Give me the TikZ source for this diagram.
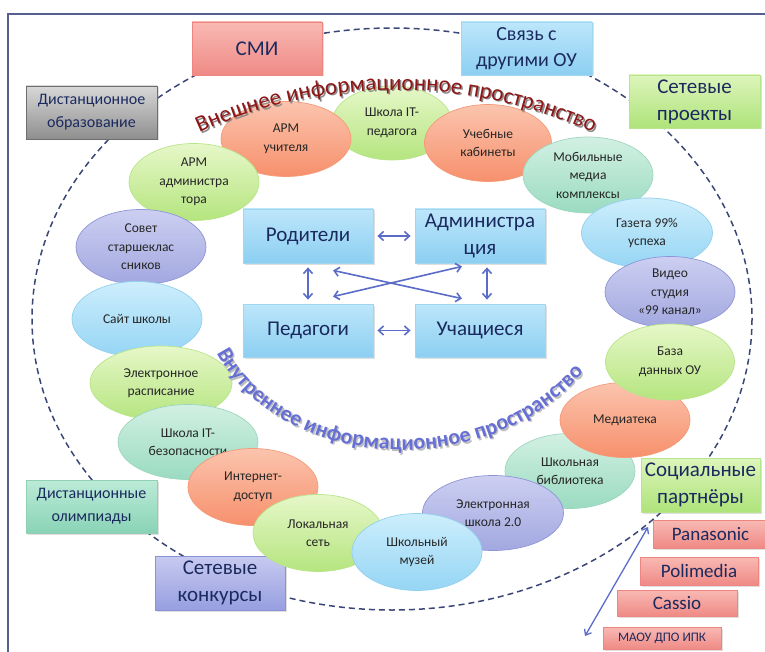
\documentclass[tikz,border=0pt]{standalone}
\usepackage{fontspec}
\setmainfont{Carlito}
\usetikzlibrary{arrows.meta, positioning, shapes.geometric, shadows, decorations.text}
\definecolor{navytext}{HTML}{1B2A5E}
\definecolor{frameblue}{HTML}{56608F}
\definecolor{dashblue}{HTML}{3A4675}
\definecolor{arrowblue}{HTML}{5B6CC8}
\definecolor{outerred}{HTML}{8E1616}
\definecolor{innerblue}{HTML}{6670D4}
% box fills
\definecolor{redtop}{HTML}{F9B9B4}\definecolor{redbot}{HTML}{EF8A85}\definecolor{redbd}{HTML}{EE8580}
\definecolor{bluetop}{HTML}{BDE6FB}\definecolor{bluebot}{HTML}{8CCFF1}\definecolor{bluebd}{HTML}{A0D6F0}
\definecolor{greentop}{HTML}{DDF5BB}\definecolor{greenbot}{HTML}{AEE37A}\definecolor{greenbd}{HTML}{B9E48E}
\definecolor{graytop}{HTML}{D8D8D8}\definecolor{graybot}{HTML}{8E8E8E}\definecolor{graybd}{HTML}{6E6E6E}
\definecolor{minttop}{HTML}{BCEBD8}\definecolor{mintbot}{HTML}{89D3B6}\definecolor{mintbd}{HTML}{8FD0B6}
\definecolor{lavtop}{HTML}{C7CAF0}\definecolor{lavbot}{HTML}{979EE0}\definecolor{lavbd}{HTML}{8A91D4}
% bubble fills
\definecolor{ortop}{HTML}{FBC4AE}\definecolor{orbot}{HTML}{F7906C}\definecolor{orbd}{HTML}{F59A78}
\definecolor{grtop}{HTML}{E6F7C8}\definecolor{grbot}{HTML}{B5E57F}\definecolor{grbd}{HTML}{B8E58A}
\definecolor{mntop}{HTML}{D2F0E3}\definecolor{mnbot}{HTML}{9ADBC1}\definecolor{mnbd}{HTML}{9DD6BF}
\definecolor{lbtop}{HTML}{CDEEFC}\definecolor{lbbot}{HTML}{95D5F4}\definecolor{lbbd}{HTML}{93D0EE}
\definecolor{lvtop}{HTML}{CCCFF1}\definecolor{lvbot}{HTML}{A2A8E0}\definecolor{lvbd}{HTML}{8E95D6}
\newcommand{\boxfont}{\fontsize{21}{27}\selectfont}
\newcommand{\midboxfont}{\fontsize{20}{26}\selectfont}
\newcommand{\smallboxfont}{\fontsize{16}{23}\selectfont}
\newcommand{\brandfont}{\fontsize{19}{19}\selectfont}

\begin{document}
\begin{tikzpicture}[x=1pt, y=-1pt, >=Stealth,
    box/.style={rectangle, align=center, inner sep=0pt, text=navytext, line width=0.8pt,
        drop shadow={opacity=0.25, shadow xshift=1.5pt, shadow yshift=-1.5pt}},
    redbox/.style={box, draw=redbd, top color=redtop, bottom color=redbot},
    bluebox/.style={box, draw=bluebd, top color=bluetop, bottom color=bluebot},
    greenbox/.style={box, draw=greenbd, top color=greentop, bottom color=greenbot},
    graybox/.style={box, draw=graybd, top color=graytop, bottom color=graybot},
    mintbox/.style={box, draw=mintbd, top color=minttop, bottom color=mintbot},
    lavbox/.style={box, draw=lavbd, top color=lavtop, bottom color=lavbot},
    bubble/.style={ellipse, inner sep=0pt, align=center, line width=0.7pt, text=black!85,
        font=\fontsize{13.5}{18.5}\selectfont},
    orangeb/.style={bubble, draw=orbd, top color=ortop, bottom color=orbot},
    greenb/.style={bubble, draw=grbd, top color=grtop, bottom color=grbot},
    mintb/.style={bubble, draw=mnbd, top color=mntop, bottom color=mnbot},
    blueb/.style={bubble, draw=lbbd, top color=lbtop, bottom color=lbbot},
    lavb/.style={bubble, draw=lvbd, top color=lvtop, bottom color=lvbot},
    biarrow/.style={{Straight Barb[length=5pt,width=9pt]}-{Straight Barb[length=5pt,width=9pt]},
        arrowblue, line width=1.6pt, shorten <=4pt, shorten >=4pt}]
    \useasboundingbox (0,0) rectangle (765,652);

    % Frame
    \draw[frameblue, line width=2pt] (8,665) -- (8,14) -- (775,14);

    % Outer dashed ring
    \draw[dashblue, line width=1.5pt, dash pattern=on 6pt off 4pt] (392,319) ellipse [x radius=360, y radius=291];

    % Outer boxes
    \node[redbox, minimum width=130, minimum height=53, font=\boxfont] (smi) at (257,48.5) {СМИ};
    \node[bluebox, minimum width=131, minimum height=53, font=\midboxfont] (svyaz) at (526.5,48.5) {Связь с\\другими ОУ};
    \node[greenbox, minimum width=131, minimum height=53, font=\boxfont] (proekty) at (694.5,101.5) {Сетевые\\проекты};
    \node[graybox, minimum width=131, minimum height=53, font=\smallboxfont] (distobr) at (91.5,112.5) {Дистанционное\\образование};
    \node[mintbox, minimum width=131, minimum height=53, font=\smallboxfont] (olymp) at (91.5,506.5) {Дистанционные\\олимпиады};
    \node[lavbox, minimum width=130, minimum height=54, font=\boxfont] (konkurs) at (220,583) {Сетевые\\конкурсы};
    \node[greenbox, minimum width=119, minimum height=54, font=\boxfont] (partners) at (700.5,485) {Социальные\\партнёры};
    \node[redbox, minimum width=115, minimum height=28, font=\brandfont] (panasonic) at (710.5,534) {Panasonic};
    \node[redbox, minimum width=118, minimum height=28, font=\brandfont] (polimedia) at (699,571) {Polimedia};
    \node[redbox, minimum width=120, minimum height=26, font=\brandfont] (cassio) at (677,603) {Cassio};
    \node[redbox, minimum width=118, minimum height=22, font=\fontsize{13}{13}\selectfont] (maou) at (662,638) {МАОУ ДПО ИПК};

    % Ring of bubbles
    \foreach \nm/\px/\py/\w/\h/\col/\txt in {
        itped/392/123/120/74/greenb/{Школа IT-\\педагога},
        armuch/286/139/130/75/orangeb/{АРМ\\учителя},
        armadm/194/182/130/77/greenb/{АРМ\\администра\\тора},
        sovet/141/247/130/75/lavb/{Совет\\старшеклас\\сников},
        sait/137/319/130/75/blueb/{Сайт школы},
        raspis/161/383/142/74/greenb/{Электронное\\расписание},
        itbez/188/442/140/75/mintb/{Школа IT-\\безопасности},
        internet/253/487/130/77/orangeb/{Интернет-\\доступ},
        lokal/318/533/130/77/greenb/{Локальная\\сеть},
        uchkab/488/143/127/77/orangeb/{Учебные\\кабинеты},
        mobil/588/175/130/76/mintb/{Мобильные\\медиа\\комплексы},
        gazeta/647/233/131/70/blueb/{Газета 99\%\\успеха},
        video/670/292/130/71/lavb/{Видео\\студия\\«99 канал»},
        bibl/570/471/130/75/mintb/{Школьная\\библиотека},
        media/625/420/130/75/orangeb/{Медиатека},
        baza/670/362/129/76/greenb/{База\\данных ОУ},
        eshkola/493/513/141/75/lavb/{Электронная\\школа 2.0},
        muzei/417/552/130/77/blueb/{Школьный\\музей}}
        \node[\col, minimum width=\w, minimum height=\h] (\nm) at (\px,\py) {\txt};

    % Centre
    \node[bluebox, minimum width=130, minimum height=54, font=\boxfont] (rod) at (308,236) {Родители};
    \node[bluebox, minimum width=130, minimum height=54, font=\boxfont] (adm) at (480,236) {Администра\\ция};
    \node[bluebox, minimum width=130, minimum height=53, font=\boxfont] (ped) at (308,330.5) {Педагоги};
    \node[bluebox, minimum width=130, minimum height=53, font=\boxfont] (uch) at (480,330.5) {Учащиеся};
    \draw[biarrow] (rod) -- (adm);
    \draw[biarrow] (ped) -- (uch);
    \draw[biarrow] (rod) -- (ped);
    \draw[biarrow] ([xshift=7pt]adm.south) -- ([xshift=7pt]uch.north);
    \draw[biarrow, shorten <=0pt, shorten >=0pt] ([xshift=25pt,yshift=-7pt]rod.south) -- ([xshift=-18pt,yshift=5pt]uch.north);
    \draw[biarrow, shorten <=0pt, shorten >=0pt] ([xshift=25pt,yshift=7pt]ped.north) -- ([xshift=-18pt,yshift=-3pt]adm.south);

    % Partners arrow
    \coordinate (pa) at (648,527);
    \coordinate (pb) at (585,636);
    \draw[arrowblue, line width=1.3pt, {Straight Barb[length=5pt,width=8pt]}-{Straight Barb[length=5pt,width=8pt]}] (pa) -- (pb);

    % Curved titles
    \path[decorate, decoration={text along path, text align=center,
        text={|\fontsize{23}{23}\selectfont\color{black!45}|Внешнее информационное пространство}}]
        (182.3,143.2) .. controls (317.5,74.3) and (477.5,74.3) .. (612.7,143.2);
    \path[decorate, decoration={text along path, text align=center,
        text={|\fontsize{23}{23}\selectfont\color{outerred}|Внешнее информационное пространство}}]
        (180.8,141.7) .. controls (316,72.8) and (476,72.8) .. (611.2,141.7);
    \path[decorate, decoration={text along path, text align=center,
        text={|\fontsize{22}{22}\selectfont\bfseries\color{black!25}|Внутреннее информационное пространство}}]
        (209.5,334.5) .. controls (259.5,475.5) and (501.5,496.5) .. (598.5,356.5);
    \path[decorate, decoration={text along path, text align=center,
        text={|\fontsize{22}{22}\selectfont\bfseries\color{innerblue}|Внутреннее информационное пространство}}]
        (208,333) .. controls (258,474) and (500,495) .. (597,355);
\end{tikzpicture}
\end{document}
